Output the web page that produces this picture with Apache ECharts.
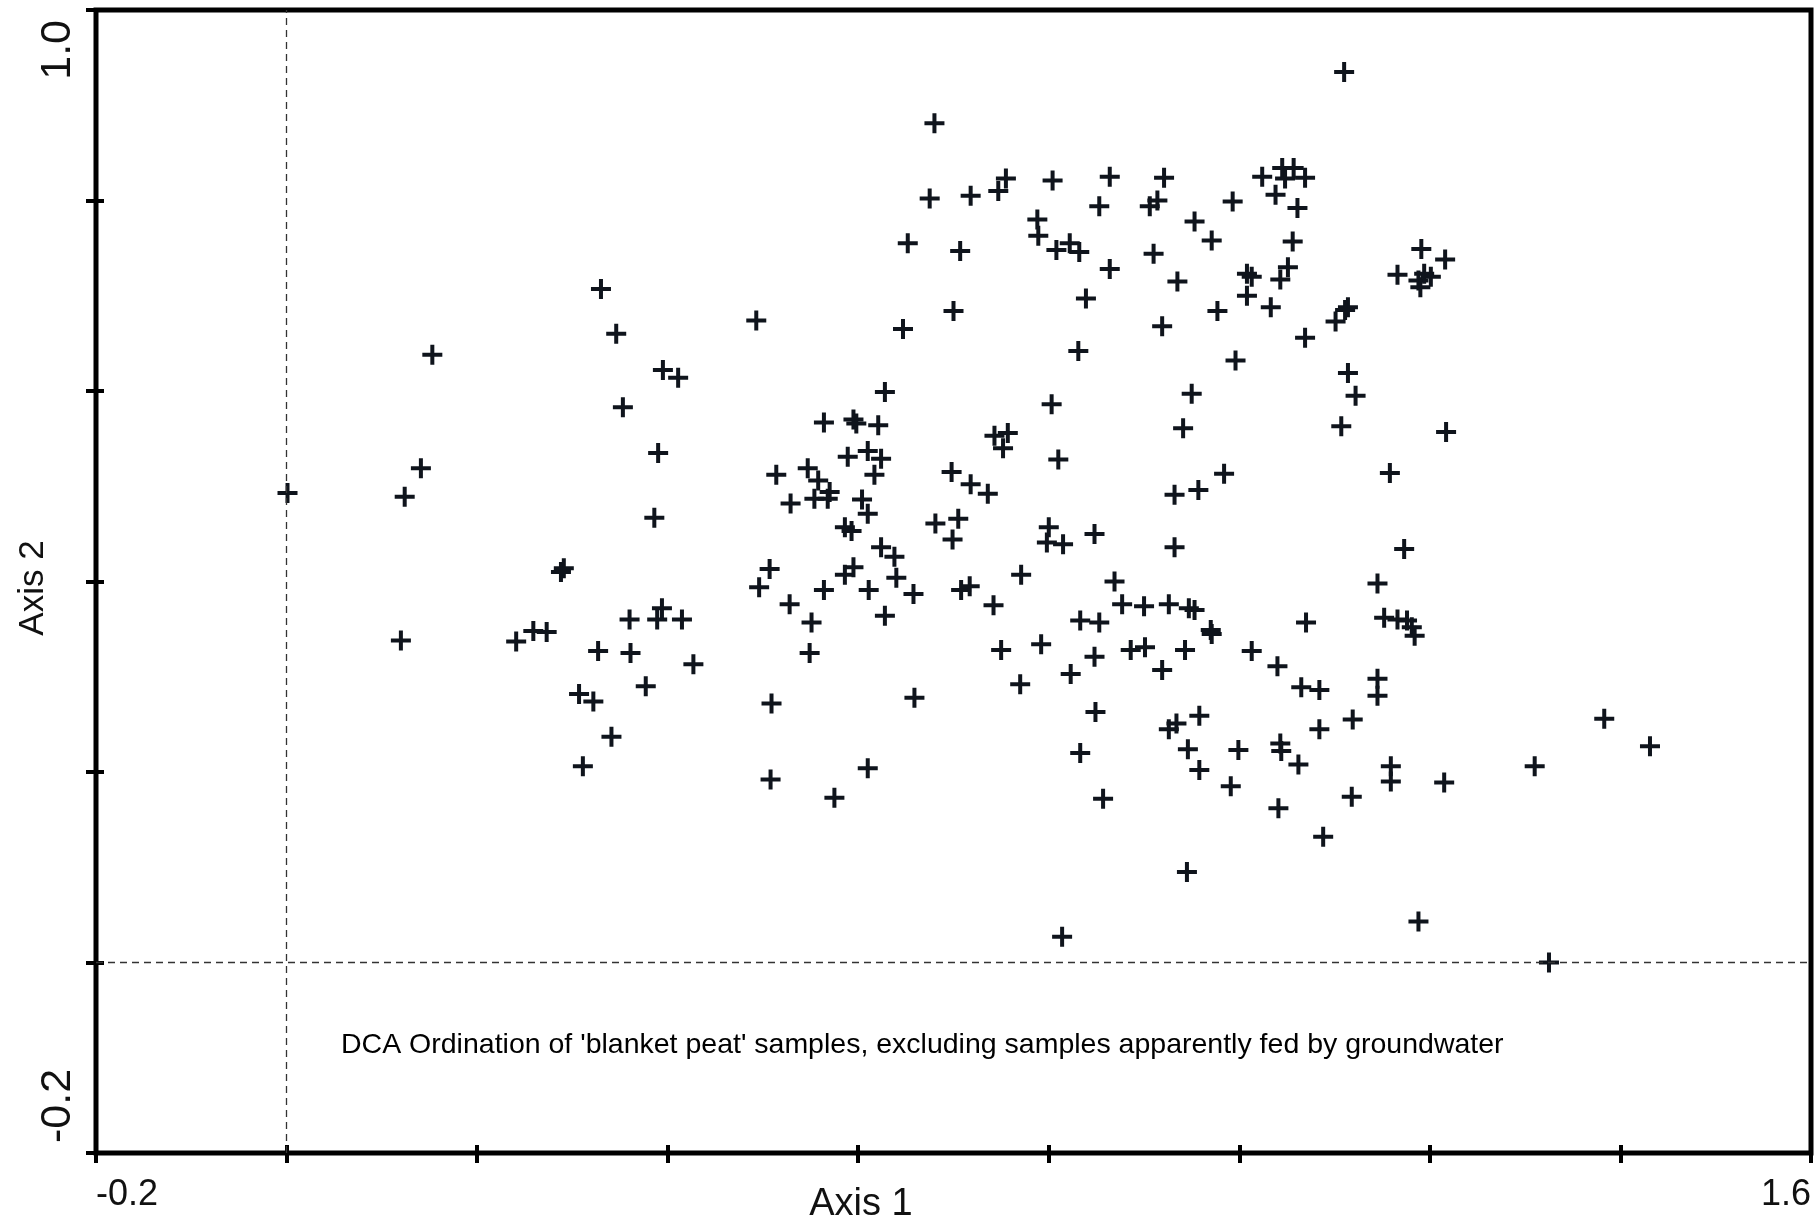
<!DOCTYPE html>
<html><head><meta charset="utf-8">
<script src="https://cdn.jsdelivr.net/npm/echarts@6.0.0/dist/echarts.min.js"></script>
<style>html,body{margin:0;padding:0;background:#fff}#c{width:1818px;height:1224px}</style>
</head><body><div id="c"></div>
<script>
// Sample scores on DCA axis 1 and axis 2
const axis1 = [
0.153,0.330,0.346,0.395,0.411,
0.680,0.755,0.747,0.804,0.864,0.921,0.675,0.718,0.853,0.914,0.906,0.788,0.789,0.953,0.971,
0.652,0.707,0.808,0.822,0.832,0.910,0.864,0.935,0.839,0.493,0.647,0.700,0.919,0.977,0.831,
1.110,1.024,1.045,1.057,1.048,1.069,1.038,0.993,1.061,1.056,1.008,1.013,1.051,1.043,1.008,
1.033,1.191,1.216,1.166,1.188,1.194,1.201,1.190,1.114,1.111,1.101,1.069,0.996,1.114,
0.353,0.390,0.141,0.001,0.124,0.386,0.291,0.288,0.394,0.360,0.389,0.415,0.120,0.241,0.259,
0.273,0.327,0.361,0.427,0.377,0.307,0.322,0.341,0.311,
0.628,0.803,0.950,0.941,0.564,0.595,0.598,0.621,0.743,0.757,0.752,0.810,0.589,0.610,0.624,
0.617,0.514,0.547,0.558,0.570,0.554,0.568,0.529,0.604,0.610,0.586,0.593,0.698,0.718,0.736,
0.681,0.705,0.699,0.800,0.798,0.815,0.848,0.932,0.957,0.984,0.932,0.624,0.638,0.640,0.658,
0.595,0.586,0.564,0.611,0.507,0.496,0.528,0.551,0.628,0.549,0.708,0.717,0.771,0.742,0.869,
0.877,0.900,0.926,0.947,0.953,0.833,0.853,0.970,0.971,0.750,0.792,0.848,0.886,0.901,0.943,
0.823,0.919,0.770,0.509,0.659,
0.849,0.926,0.934,0.958,0.833,0.946,0.958,0.508,0.575,0.610,0.857,0.945,0.814,
1.122,1.107,1.217,1.158,1.173,1.145,1.070,1.152,1.166,1.176,1.181,1.184,1.013,1.040,1.065,
1.084,1.145,1.145,
0.999,1.043,1.044,1.062,1.084,1.119,0.991,1.041,1.088,1.118,1.159,1.159,1.215,1.188,1.310,
1.383,1.431,1.325
];
const axis2 = [
0.638,0.707,0.660,0.622,0.614,
0.881,0.823,0.810,0.821,0.825,0.824,0.802,0.805,0.794,0.800,0.794,0.780,0.763,0.778,0.758,
0.755,0.747,0.748,0.755,0.746,0.744,0.728,0.715,0.697,0.674,0.665,0.684,0.668,0.684,0.642,
0.935,0.825,0.834,0.834,0.823,0.824,0.806,0.799,0.792,0.757,0.723,0.720,0.730,0.717,0.700,
0.688,0.749,0.738,0.722,0.716,0.723,0.720,0.709,0.688,0.685,0.673,0.656,0.632,0.619,
0.583,0.535,0.519,0.493,0.489,0.467,0.414,0.410,0.372,0.360,0.360,0.360,0.338,0.337,0.348,
0.347,0.327,0.325,0.313,0.290,0.282,0.274,0.237,0.206,
0.599,0.586,0.597,0.561,0.567,0.570,0.566,0.564,0.553,0.556,0.540,0.528,0.531,0.537,0.529,
0.512,0.512,0.519,0.506,0.494,0.487,0.487,0.482,0.486,0.471,0.457,0.453,0.515,0.502,0.492,
0.461,0.466,0.444,0.457,0.441,0.439,0.450,0.491,0.496,0.513,0.436,0.436,0.426,0.404,0.387,
0.415,0.407,0.391,0.391,0.413,0.394,0.376,0.357,0.364,0.325,0.391,0.395,0.407,0.375,0.400,
0.376,0.374,0.376,0.372,0.370,0.359,0.357,0.349,0.345,0.328,0.334,0.321,0.328,0.331,0.328,
0.303,0.307,0.292,0.272,0.278,
0.263,0.245,0.251,0.259,0.220,0.224,0.202,0.192,0.173,0.204,0.172,0.095,0.027,
0.595,0.563,0.557,0.514,0.434,0.398,0.357,0.362,0.360,0.359,0.352,0.343,0.327,0.311,0.289,
0.286,0.298,0.280,
0.223,0.230,0.222,0.208,0.245,0.255,0.185,0.162,0.132,0.174,0.206,0.190,0.189,0.043,0.206,
0.256,0.227,0.000
];
const xMin = -0.2, xMax = 1.6, yMin = -0.2, yMax = 1.0, step = 0.2;
const xTickLabels = ['-0.2', '1.6'];
const yTickLabels = ['-0.2', '1.0'];
const xTitle = 'Axis 1';
const yTitle = 'Axis 2';
const caption = "DCA Ordination of 'blanket peat' samples, excluding samples apparently fed by groundwater";
const refLines = [0, 0]; // dashed zero lines (axis1 = 0, axis2 = 0)

const points = axis1.map((v, i) => [v, axis2[i]]);
const FONT = "'Liberation Sans', Arial, sans-serif";
const plus = 'path://M40,0H60V40H100V60H60V100H40V60H0V40H40Z';

const chart = echarts.init(document.getElementById('c'), null, {renderer: 'canvas'});
const G = {left: 96, right: 7, top: 10, bottom: 71};
function fmt(list) { return v => { const s = v.toFixed(1); return list.includes(s) ? s : ''; }; }
const tickStyle = {color: '#000', width: 4};
const noLine = {show: false, onZero: false};
chart.setOption({
  animation: false,
  backgroundColor: '#fff',
  grid: Object.assign({show: true, borderWidth: 5, borderColor: '#000', containLabel: false}, G),
  xAxis: [{
    type: 'value', position: 'bottom', min: xMin, max: xMax, interval: step,
    axisLine: noLine, splitLine: {show: false},
    axisTick: {show: true, inside: false, length: 10, lineStyle: tickStyle},
    axisLabel: {show: true, formatter: fmt(xTickLabels), fontSize: 36, color: '#111', fontFamily: FONT,
      margin: 24, alignMinLabel: 'left', alignMaxLabel: 'right'}
  }, {
    type: 'value', position: 'bottom', min: xMin, max: xMax, interval: step,
    axisLine: noLine, splitLine: {show: false}, axisLabel: {show: false},
    axisTick: {show: true, inside: true, length: 8, lineStyle: tickStyle}
  }],
  yAxis: [{
    type: 'value', position: 'left', min: yMin, max: yMax, interval: step,
    axisLine: noLine, splitLine: {show: false},
    axisTick: {show: true, inside: false, length: 10, lineStyle: tickStyle},
    axisLabel: {show: true, formatter: fmt(yTickLabels), fontSize: 43, color: '#111', fontFamily: FONT,
      margin: 16, rotate: 90, padding: [0, 10, 0, 10], alignMinLabel: 'left', alignMaxLabel: 'right'}
  }, {
    type: 'value', position: 'left', min: yMin, max: yMax, interval: step,
    axisLine: noLine, splitLine: {show: false}, axisLabel: {show: false},
    axisTick: {show: true, inside: true, length: 8, lineStyle: tickStyle}
  }],
  graphic: [
    {type: 'text', x: 861, y: 1205, style: {text: xTitle, font: '38px ' + FONT, fill: '#111', align: 'center', verticalAlign: 'middle'}},
    {type: 'text', x: 33, y: 588, rotation: Math.PI / 2,
      style: {text: yTitle, font: '35px ' + FONT, fill: '#111', align: 'center', verticalAlign: 'middle'}},
    {type: 'text', x: 341, y: 1045, style: {text: caption, font: '28.5px ' + FONT, fill: '#000', align: 'left', verticalAlign: 'middle'}}
  ],
  series: [{
    type: 'scatter', xAxisIndex: 0, yAxisIndex: 0,
    data: points, symbol: plus, symbolSize: 20,
    itemStyle: {color: '#0f141c', opacity: 1},
    markLine: {
      silent: true, symbol: ['none', 'none'], label: {show: false}, animation: false,
      lineStyle: {type: [7, 5], color: '#333', width: 1.3},
      data: [{xAxis: refLines[0]}, {yAxis: refLines[1]}]
    }
  }]
});
</script></body></html>
